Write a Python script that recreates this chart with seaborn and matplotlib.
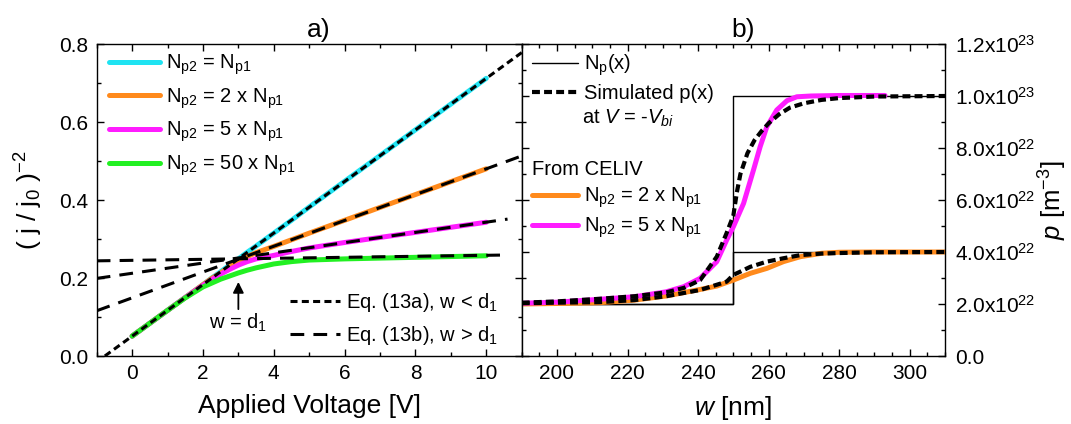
import matplotlib
matplotlib.use("Agg")
import matplotlib.pyplot as plt
import seaborn as sns
from matplotlib.ticker import MultipleLocator, FixedLocator

# ---- panel a) data ----
volts = [0, 0.5, 1, 1.5, 2, 2.25, 2.5, 2.75, 3, 3.25, 3.5, 4, 4.5, 5, 6, 7, 8, 9, 10]
j_equal = [0.051, 0.084, 0.117, 0.150, 0.183, 0.200, 0.216, 0.233, 0.249, 0.266, 0.282,
           0.315, 0.348, 0.382, 0.448, 0.514, 0.580, 0.646, 0.712]
j_x2 = [0.051, 0.084, 0.117, 0.150, 0.183, 0.199, 0.213, 0.229, 0.243, 0.255, 0.265,
        0.281, 0.298, 0.315, 0.348, 0.381, 0.414, 0.447, 0.480]
j_x5 = [0.051, 0.084, 0.117, 0.150, 0.181, 0.196, 0.210, 0.222, 0.233, 0.242, 0.249,
        0.258, 0.268, 0.277, 0.291, 0.304, 0.317, 0.330, 0.343]
j_x50 = [0.051, 0.084, 0.117, 0.149, 0.177, 0.187, 0.197, 0.205, 0.213, 0.220, 0.226,
         0.236, 0.242, 0.246, 0.249, 0.251, 0.253, 0.255, 0.257]

eq13a_v = [-0.77, 11.0]
eq13a_j = [0.0, 0.778]
eq13b_v = {"x2": [-1.0, 11.0], "x5": [-1.0, 10.6], "x50": [-1.0, 10.6]}
eq13b_j = {"x2": [0.116, 0.513], "x5": [0.199, 0.351], "x50": [0.244, 0.259]}

# ---- panel b) data (p in units of 1e22 m^-3) ----
np_w = [190, 250, 250, 310]
np_low = [2.0, 2.0, 4.0, 4.0]
np_high = [2.0, 2.0, 10.0, 10.0]

celiv_w5 = [190, 200, 212, 222, 231, 236, 240.6, 245.3, 248.1, 250, 252.9, 255.7, 257.6,
            259.5, 262.3, 265.2, 268, 272, 280, 293]
celiv_p5 = [2.03, 2.07, 2.18, 2.28, 2.47, 2.67, 2.99, 3.63, 4.46, 4.97, 5.87, 7.15, 8.05,
            8.82, 9.46, 9.82, 9.97, 10.0, 10.02, 10.02]
sim_w5 = [190, 200, 212, 222, 231, 236, 240.6, 245.3, 248, 250, 251, 252, 254, 256, 258,
          260, 263, 266, 270, 275, 280, 290, 310]
sim_p5 = [2.05, 2.1, 2.2, 2.3, 2.45, 2.62, 2.92, 3.82, 4.7, 5.4, 6.3, 7.0, 7.8, 8.3, 8.65,
          8.95, 9.3, 9.55, 9.72, 9.85, 9.92, 9.98, 10.0]
celiv_w2 = [190, 200, 212, 222, 231, 240.6, 245.3, 250, 254.8, 259.5, 264.2, 269, 275, 280, 290, 310]
celiv_p2 = [2.0, 2.02, 2.05, 2.15, 2.31, 2.56, 2.69, 2.92, 3.18, 3.37, 3.63, 3.82, 3.95, 3.99, 4.0, 4.0]
sim_w2 = [190, 200, 212, 222, 231, 240.6, 248.1, 250, 251.9, 254.8, 259.5, 264.2, 269, 275, 280, 290, 310]
sim_p2 = [2.03, 2.05, 2.07, 2.15, 2.3, 2.54, 2.86, 3.12, 3.24, 3.43, 3.63, 3.76, 3.88, 3.94, 3.96, 3.99, 4.0]

p_ticks = [0, 2, 4, 6, 8, 10, 12]
p_tick_labels = ["0.0", r"2.0x10$^{22}$", r"4.0x10$^{22}$", r"6.0x10$^{22}$",
                 r"8.0x10$^{22}$", r"1.0x10$^{23}$", r"1.2x10$^{23}$"]

CYAN = "#1fe3f2"
ORANGE = "#ff8a1c"
MAGENTA = "#ff1cff"
GREEN = "#22f022"

sns.set_style("ticks")
plt.rcParams["font.family"] = ["Liberation Sans", "DejaVu Sans"]
plt.rcParams["mathtext.fontset"] = "custom"
plt.rcParams["mathtext.rm"] = "Liberation Sans"
plt.rcParams["mathtext.it"] = "Liberation Sans:italic"
plt.rcParams["mathtext.bf"] = "Liberation Sans:bold"
for key in ["text.color", "axes.labelcolor", "xtick.color", "ytick.color", "axes.edgecolor"]:
    plt.rcParams[key] = "black"
plt.rcParams["axes.linewidth"] = 1.0

fig = plt.figure(figsize=(10.71, 4.24), dpi=100)
ax_a = fig.add_axes([96.7 / 1071, 68 / 424, 425 / 1071, 312 / 424])
ax_b = fig.add_axes([521.7 / 1071, 68 / 424, 423.3 / 1071, 312 / 424])

DOT = (0, (2.3, 1.4))
DASH = (0, (4.5, 3.0))
CLW = 3.6


def npl(k):
    return r"N$_\mathrm{p2}$ = " + k + r"N$_\mathrm{p1}$"


# ---- panel a ----
l_eq = sns.lineplot(x=volts, y=j_equal, ax=ax_a, color=CYAN, lw=CLW, legend=False,
                    estimator=None, sort=False).lines[-1]
l_x2 = sns.lineplot(x=volts, y=j_x2, ax=ax_a, color=ORANGE, lw=CLW, legend=False,
                    estimator=None, sort=False).lines[-1]
l_x5 = sns.lineplot(x=volts, y=j_x5, ax=ax_a, color=MAGENTA, lw=CLW, legend=False,
                    estimator=None, sort=False).lines[-1]
l_x50 = sns.lineplot(x=volts, y=j_x50, ax=ax_a, color=GREEN, lw=CLW, legend=False,
                     estimator=None, sort=False).lines[-1]
l_13a = sns.lineplot(x=eq13a_v, y=eq13a_j, ax=ax_a, color="k", lw=2.2, linestyle=DOT,
                     legend=False, estimator=None, sort=False).lines[-1]
l_13b = None
for key in ["x2", "x5", "x50"]:
    l_13b = sns.lineplot(x=eq13b_v[key], y=eq13b_j[key], ax=ax_a, color="k", lw=2.2,
                         linestyle=DASH, legend=False, estimator=None, sort=False).lines[-1]

ax_a.set_xlim(-1, 11)
ax_a.set_ylim(0, 0.8)
ax_a.xaxis.set_major_locator(MultipleLocator(2))
ax_a.xaxis.set_minor_locator(MultipleLocator(1))
ax_a.yaxis.set_major_locator(MultipleLocator(0.2))
ax_a.yaxis.set_minor_locator(MultipleLocator(0.1))
ax_a.yaxis.set_major_formatter(lambda v, pos: f"{v:.1f}")
ax_a.set_xlabel("Applied Voltage [V]", fontsize=19, labelpad=8)
ax_a.set_ylabel(r"( j / j$_\mathrm{0}$ )$^\mathrm{-2}$", fontsize=19, labelpad=10)
ax_a.set_title("a)", fontsize=19, x=0.522, pad=5)

ax_a.annotate("", xy=(3, 0.197), xytext=(3, 0.113),
              arrowprops=dict(arrowstyle="-|>", color="k", lw=1.3, mutation_scale=16))
ax_a.text(3, 0.084, r"w = d$_\mathrm{1}$", fontsize=14.5, ha="center", va="center")

leg1 = ax_a.legend([l_eq, l_x2, l_x5, l_x50],
                   [npl(""), npl("2 x "), npl("5 x "), npl("50 x ")],
                   loc="upper left", bbox_to_anchor=(0.02, 0.985), frameon=False,
                   fontsize=14.5, handlelength=2.5, handletextpad=0.3, labelspacing=0.45,
                   borderpad=0.2, borderaxespad=0)
ax_a.add_artist(leg1)
ax_a.legend([l_13a, l_13b], [r"Eq. (13a), w < d$_\mathrm{1}$", r"Eq. (13b), w > d$_\mathrm{1}$"],
            loc="lower right", bbox_to_anchor=(0.955, 0.015), frameon=False,
            fontsize=14.5, handlelength=2.5, handletextpad=0.3, labelspacing=0.5,
            borderpad=0.2, borderaxespad=0)

# ---- panel b ----
l_np = sns.lineplot(x=np_w, y=np_low, ax=ax_b, color="k", lw=1.0, legend=False,
                    estimator=None, sort=False).lines[-1]
sns.lineplot(x=np_w, y=np_high, ax=ax_b, color="k", lw=1.0, legend=False,
             estimator=None, sort=False)
l_c2 = sns.lineplot(x=celiv_w2, y=celiv_p2, ax=ax_b, color=ORANGE, lw=CLW, legend=False,
                    estimator=None, sort=False).lines[-1]
l_c5 = sns.lineplot(x=celiv_w5, y=celiv_p5, ax=ax_b, color=MAGENTA, lw=CLW, legend=False,
                    estimator=None, sort=False).lines[-1]
SIMDASH = (0, (1.9, 1.0))
l_sim = sns.lineplot(x=sim_w5, y=sim_p5, ax=ax_b, color="k", lw=3.0, linestyle=SIMDASH,
                     legend=False, estimator=None, sort=False).lines[-1]
sns.lineplot(x=sim_w2, y=sim_p2, ax=ax_b, color="k", lw=3.0, linestyle=SIMDASH,
             legend=False, estimator=None, sort=False)

ax_b.set_xlim(190, 310)
ax_b.set_ylim(0, 12)
ax_b.xaxis.set_major_locator(MultipleLocator(20))
ax_b.xaxis.set_minor_locator(MultipleLocator(5))
ax_b.yaxis.set_major_locator(FixedLocator(p_ticks))
ax_b.set_yticklabels(p_tick_labels)
ax_b.yaxis.set_minor_locator(MultipleLocator(1))
ax_b.yaxis.set_label_position("right")
ax_b.set_xlabel(r"$w$ [nm]", fontsize=19, labelpad=8)
ax_b.set_ylabel(r"$p$ [m$^\mathrm{-3}$]", fontsize=18.5, labelpad=1)
ax_b.set_title("b)", fontsize=19, x=0.522, pad=5)

leg2 = ax_b.legend([l_np, l_sim], [r"N$_\mathrm{p}$(x)", "Simulated p(x)"],
                   loc="upper left", bbox_to_anchor=(0.015, 0.985), frameon=False,
                   fontsize=14.5, handlelength=2.3, handletextpad=0.3, labelspacing=0.3,
                   borderpad=0.2, borderaxespad=0)
ax_b.add_artist(leg2)
fig.text(582.5 / 1071, 1 - 118 / 424, r"at $V$ = -$V_\mathit{bi}$", fontsize=14.5,
         ha="left", va="center")
ax_b.legend([l_c2, l_c5], [npl("2 x "), npl("5 x ")],
            title="From CELIV", title_fontsize=14.5, alignment="left",
            loc="upper left", bbox_to_anchor=(0.015, 0.64), frameon=False,
            fontsize=14.5, handlelength=2.3, handletextpad=0.3, labelspacing=0.3,
            borderpad=0.2, borderaxespad=0)

for ax in (ax_a, ax_b):
    ax.tick_params(which="both", direction="in", top=True, right=True, width=1.0,
                   labelsize=15, pad=6)
    ax.tick_params(which="major", length=5)
    ax.tick_params(which="minor", length=3)
    for s in ax.spines.values():
        s.set_linewidth(1.0)
ax_b.tick_params(axis="y", which="both", left=True, right=True, labelleft=False,
                 labelright=True, pad=7)

fig.savefig("out.png", dpi=100)
